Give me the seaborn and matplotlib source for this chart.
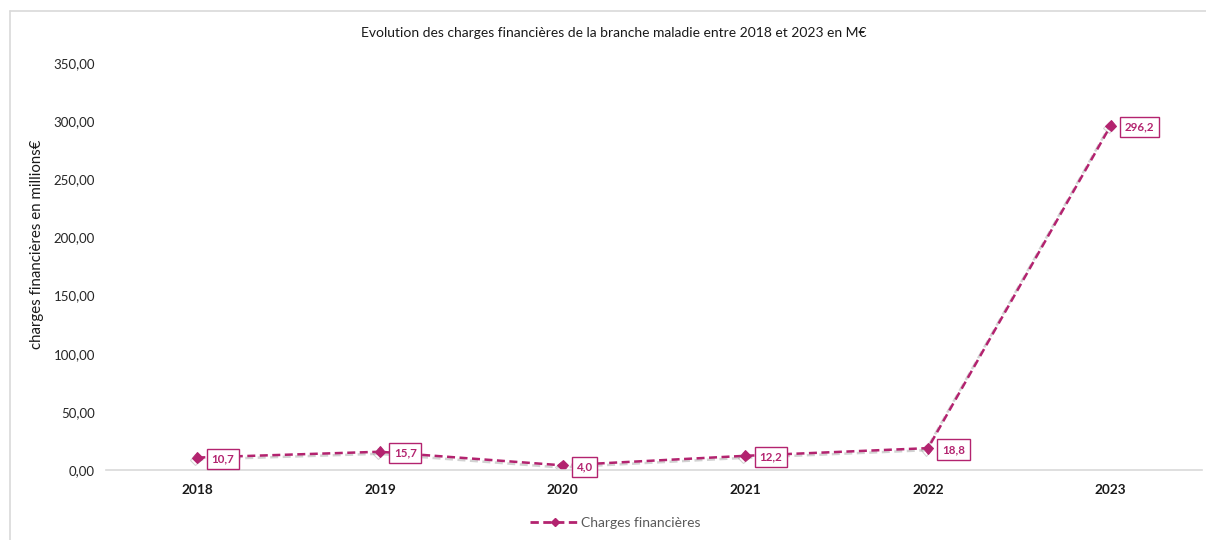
import matplotlib
matplotlib.use("Agg")
import matplotlib.pyplot as plt
import matplotlib.patheffects as pe
from matplotlib.lines import Line2D
from matplotlib.ticker import FuncFormatter
import pandas as pd
import seaborn as sns

years = ["2018", "2019", "2020", "2021", "2022", "2023"]
charges = [10.7, 15.7, 4.0, 12.2, 18.8, 296.2]
series_name = "Charges financières"
title = "Evolution des charges financières de la branche maladie entre 2018 et 2023 en M€"
ylabel = "charges financières en millions€"

color = "#B3236F"

sns.set_theme(style="white")
plt.rcParams["font.family"] = ["Lato", "DejaVu Sans"]

df = pd.DataFrame({"pos": range(len(years)), "year": years, "value": charges})

fig = plt.figure(figsize=(12.06, 5.40), dpi=100)
ax = fig.add_axes([106 / 1206, 70 / 540, 1096 / 1206, 407 / 540])

sns.lineplot(data=df, x="pos", y="value", ax=ax, color=color, lw=1.8,
             linestyle=(0, (3.2, 1.8)), marker="D", markersize=5.5,
             markeredgecolor=color, markerfacecolor=color,
             path_effects=[pe.SimpleLineShadow(offset=(-1.5, -1.5), shadow_color="gray", alpha=0.35),
                           pe.Normal()])

for x, v in zip(df["pos"], df["value"]):
    ax.annotate(f"{v:.1f}".replace(".", ","), xy=(x, v), xytext=(10, -1),
                textcoords="offset points", ha="left", va="center",
                fontsize=8.3, fontweight="bold", color=color,
                bbox=dict(boxstyle="square,pad=0.4", fc="white", ec=color, lw=1.0))

ax.set_xlim(-0.5, len(years) - 0.5)
ax.set_ylim(0, 350)
ax.set_yticks(range(0, 351, 50))
ax.yaxis.set_major_formatter(FuncFormatter(lambda v, _: f"{v:.2f}".replace(".", ",")))
ax.set_xticks(range(len(years)))
ax.set_xticklabels(years, fontweight="bold", fontsize=9.8, color="#1a1a1a")
ax.tick_params(axis="y", labelsize=9.5, colors="#262626", pad=2)
ax.tick_params(axis="x", pad=4)
ax.set_xlabel("")
ax.set_ylabel(ylabel, fontsize=10.8, color="#1a1a1a")
ax.yaxis.set_label_coords(-62 / 1096, 0.555)

for side in ["top", "right", "left"]:
    ax.spines[side].set_visible(False)
ax.spines["bottom"].set_color("#d9d9d9")
ax.spines["bottom"].set_linewidth(1.2)
ax.grid(False)

fig.text(614 / 1206, 1 - 33 / 540, title, ha="center", va="center", fontsize=10, color="#1a1a1a")

handle = Line2D([], [], color=color, lw=2.0, linestyle=(0, (3, 1.6)), marker="D",
                markersize=4.5)
fig.legend([handle], [series_name], loc="center", bbox_to_anchor=(615 / 1206, 1 - 523 / 540),
           frameon=False, fontsize=10, handlelength=3.6, handletextpad=0.1,
           labelcolor="#595959")

# outer chart frame
fig.add_artist(Line2D([10 / 1206, 10 / 1206], [0, 1 - 11 / 540], transform=fig.transFigure,
                      color="#d9d9d9", lw=1.2))
fig.add_artist(Line2D([10 / 1206, 1], [1 - 11 / 540, 1 - 11 / 540], transform=fig.transFigure,
                      color="#d9d9d9", lw=1.2))

fig.savefig("out.png", dpi=100, facecolor="white")
